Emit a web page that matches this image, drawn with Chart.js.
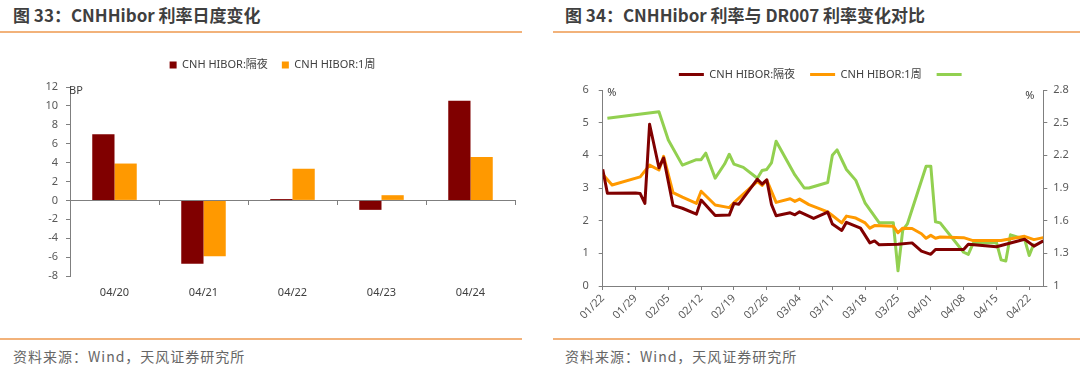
<!DOCTYPE html>
<html lang="zh-CN">
<head>
<meta charset="utf-8">
<title>CNHHibor 利率</title>
<script src="https://cdn.jsdelivr.net/npm/chart.js@4.4.1/dist/chart.umd.min.js"></script>
<style>
  html, body { margin: 0; padding: 0; background: #fff; }
  body { position: relative; width: 1080px; height: 378px; overflow: hidden; font-family: "Noto Sans CJK SC", "Noto Sans", sans-serif; }
  .title { position: absolute; top: 4px; font-size: 17px; font-weight: bold; color: #3f3f3f; line-height: 22px; white-space: nowrap; }
  .rule { position: absolute; height: 2px; background: #f2b27a; }
  .source { position: absolute; top: 346px; font-size: 14px; color: #666; line-height: 20px; letter-spacing: 1px; white-space: nowrap; }
  canvas { position: absolute; }
</style>
</head>
<body>
<div class="title" style="left:13px">图 33：CNHHibor 利率日度变化</div>
<div class="title" style="left:565px">图 34：CNHHibor 利率与 DR007 利率变化对比</div>
<div class="rule" style="left:0;width:522px;top:31px"></div>
<div class="rule" style="left:553px;width:527px;top:31px"></div>
<div class="rule" style="left:0;width:522px;top:338px"></div>
<div class="rule" style="left:553px;width:527px;top:338px"></div>
<canvas id="barChart" width="530" height="285" style="left:0;top:40px"></canvas>
<canvas id="lineChart" width="535" height="290" style="left:545px;top:40px"></canvas>
<div class="source" style="left:13px">资料来源：Wind，天风证券研究所</div>
<div class="source" style="left:565px">资料来源：Wind，天风证券研究所</div>

<script>
// 图33: daily change of CNH HIBOR, in bp
const barDays = ['04/20', '04/21', '04/22', '04/23', '04/24'];
const barOvernight = [7.0, -6.7, 0.15, -1.0, 10.55];
const barOneWeek = [3.9, -5.9, 3.35, 0.55, 4.6];

// 图34: CNH HIBOR (left axis, %) and DR007 (right axis, %), 2024
const overnightDates = ['01/22', '01/23', '01/29', '01/30', '01/31', '02/01', '02/03', '02/04', '02/06', '02/08',
  '02/11', '02/12', '02/15', '02/18', '02/19', '02/20', '02/24', '02/25', '02/26', '02/27',
  '02/28', '03/02', '03/03', '03/04', '03/07', '03/10', '03/11', '03/13', '03/14', '03/17',
  '03/19', '03/20', '03/21', '03/25', '03/28', '03/30', '04/01', '04/02', '04/08', '04/09',
  '04/15', '04/21', '04/23', '04/25'];
const overnightRates = [3.57, 2.84, 2.85, 2.83, 2.53, 4.95, 3.62, 3.92, 2.47, 2.38,
  2.20, 2.63, 2.16, 2.17, 2.53, 2.50, 3.27, 3.12, 3.25, 2.50,
  2.15, 2.24, 2.18, 2.27, 2.07, 2.26, 1.90, 1.70, 1.95, 1.77,
  1.32, 1.38, 1.26, 1.28, 1.32, 1.07, 0.97, 1.12, 1.12, 1.28,
  1.20, 1.43, 1.22, 1.38];

const weekDates = ['01/22', '01/24', '01/30', '02/01', '02/03', '02/04', '02/06', '02/08', '02/11', '02/12',
  '02/15', '02/18', '02/19', '02/24', '02/25', '02/26', '02/28', '03/02', '03/03', '03/04',
  '03/06', '03/10', '03/11', '03/13', '03/14', '03/16', '03/18', '03/19', '03/20', '03/24',
  '03/25', '03/26', '03/28', '03/30', '03/31', '04/01', '04/02', '04/03', '04/08', '04/10',
  '04/16', '04/21', '04/23', '04/25'];
const weekRates = [3.42, 3.09, 3.34, 3.70, 3.55, 3.97, 2.86, 2.72, 2.53, 2.90,
  2.48, 2.40, 2.55, 3.20, 3.08, 3.24, 2.56, 2.67, 2.59, 2.66,
  2.49, 2.27, 2.16, 1.93, 2.14, 2.08, 1.93, 1.77, 1.85, 1.83,
  1.63, 1.77, 1.76, 1.60, 1.46, 1.55, 1.46, 1.50, 1.48, 1.39,
  1.39, 1.52, 1.42, 1.48];

const dr007Dates = ['01/23', '02/03', '02/05', '02/08', '02/11', '02/12', '02/13', '02/15', '02/17', '02/18',
  '02/19', '02/21', '02/24', '02/25', '02/26', '02/27', '02/28', '03/03', '03/05', '03/06',
  '03/10', '03/11', '03/12', '03/14', '03/16', '03/18', '03/21', '03/24', '03/25', '03/26',
  '03/27', '03/31', '04/01', '04/02', '04/03', '04/08', '04/09', '04/10', '04/15', '04/16',
  '04/17', '04/18', '04/21', '04/22', '04/23'];
const dr007Rates = [2.54, 2.60, 2.34, 2.11, 2.16, 2.16, 2.22, 1.99, 2.12, 2.21,
  2.12, 2.09, 1.99, 2.06, 2.07, 2.13, 2.33, 2.02, 1.90, 1.90,
  1.95, 2.20, 2.25, 2.07, 1.97, 1.76, 1.58, 1.58, 1.14, 1.51,
  1.57, 2.10, 2.10, 1.59, 1.58, 1.31, 1.29, 1.39, 1.40, 1.24,
  1.23, 1.47, 1.43, 1.28, 1.39];

const seriesNames = ['CNH HIBOR:隔夜', 'CNH HIBOR:1周', ''];

const axisColor = '#7f7f7f';
const year = 2024;
const axisStart = Date.UTC(year, 0, 22);
const DAY = 86400000;

// 'MM/DD' -> days since 01/22
function dayIndex(mmdd) {
  const [m, d] = mmdd.split('/').map(Number);
  return (Date.UTC(year, m - 1, d) - axisStart) / DAY;
}

// days since 01/22 -> 'MM/DD'
function dayLabel(idx) {
  const dt = new Date(axisStart + idx * DAY);
  return String(dt.getUTCMonth() + 1).padStart(2, '0') + '/' + String(dt.getUTCDate()).padStart(2, '0');
}

function toPoints(dates, values) {
  return dates.map((d, i) => ({ x: dayIndex(d), y: values[i] }));
}

// small unit captions (BP, %) next to the axes
const unitLabels = {
  id: 'unitLabels',
  afterDraw(chart, args, opts) {
    const ctx = chart.ctx;
    const area = chart.chartArea;
    ctx.save();
    ctx.fillStyle = '#404040';
    ctx.font = '11px "Noto Sans", sans-serif';
    ctx.textBaseline = 'middle';
    ctx.textAlign = 'left';
    (opts.items || []).forEach(item => {
      const x = (item.side === 'right' ? area.right : area.left) + item.dx;
      ctx.fillText(item.text, x, area.top + item.dy);
    });
    ctx.restore();
  }
};

Chart.defaults.font.family = '"Noto Sans", "Noto Sans CJK SC", sans-serif';
Chart.defaults.font.size = 11;
Chart.defaults.color = '#595959';

// axis look shared by both charts: no gridlines, short outside tick marks
function axisGrid() {
  return { drawOnChartArea: false, drawTicks: true, tickLength: 4, color: axisColor };
}

// 图33 bar chart
new Chart(document.getElementById('barChart'), {
  type: 'bar',
  data: {
    labels: barDays,
    datasets: [
      { label: seriesNames[0], data: barOvernight, backgroundColor: '#800000', categoryPercentage: 0.5, barPercentage: 1.0 },
      { label: seriesNames[1], data: barOneWeek, backgroundColor: '#FF9900', categoryPercentage: 0.5, barPercentage: 1.0 }
    ]
  },
  options: {
    responsive: false,
    animation: false,
    layout: { padding: { left: 30, right: 15, top: 5.5, bottom: 19 } },
    plugins: {
      legend: { labels: { boxWidth: 7, boxHeight: 7, padding: 14, color: '#404040' } },
      // empty spacer between legend and plot
      subtitle: { display: true, text: '', weight: 500, font: { size: 1, lineHeight: 1 }, padding: { top: 0, bottom: 5.5 } },
      tooltip: { enabled: false },
      unitLabels: { items: [{ text: 'BP', side: 'left', dx: -1, dy: 4 }] }
    },
    scales: {
      x: {
        grid: { display: false },
        border: { display: false },
        ticks: { padding: 2, color: '#404040' },
        afterFit: s => { s.height = 30; }
      },
      // zero line with category tick marks
      x2: {
        axis: 'x',
        type: 'category',
        position: { y: 0 },
        offset: true,
        grid: { offset: true, drawOnChartArea: false, tickLength: 4, color: axisColor },
        border: { color: axisColor },
        ticks: { display: false }
      },
      y: {
        min: -8,
        max: 12,
        ticks: { stepSize: 2, padding: 8 },
        grid: axisGrid(),
        border: { color: axisColor },
        afterFit: s => { s.width = 40; }
      }
    }
  },
  plugins: [unitLabels]
});

// 图34 line chart
new Chart(document.getElementById('lineChart'), {
  type: 'line',
  data: {
    datasets: [
      { label: seriesNames[0], data: toPoints(overnightDates, overnightRates), borderColor: '#800000', borderWidth: 3, pointRadius: 0, yAxisID: 'y' },
      { label: seriesNames[1], data: toPoints(weekDates, weekRates), borderColor: '#FF9900', borderWidth: 3, pointRadius: 0, yAxisID: 'y' },
      { label: seriesNames[2], data: toPoints(dr007Dates, dr007Rates), borderColor: '#92D050', borderWidth: 3, pointRadius: 0, yAxisID: 'y1' }
    ]
  },
  options: {
    responsive: false,
    animation: false,
    elements: { line: { tension: 0, borderJoinStyle: 'round' } },
    layout: { padding: { left: 0, right: 0, top: 14, bottom: 4 } },
    plugins: {
      legend: { fullSize: false, labels: { usePointStyle: true, pointStyle: 'line', pointStyleWidth: 25, padding: 15, color: '#404040' } },
      tooltip: { enabled: false },
      unitLabels: { items: [{ text: '%', side: 'left', dx: 4.5, dy: 3 }, { text: '%', side: 'right', dx: -18, dy: 6 }] }
    },
    scales: {
      x: {
        type: 'linear',
        min: 0,
        max: 94,
        ticks: { stepSize: 7, includeBounds: false, autoSkip: false, minRotation: 45, maxRotation: 45, padding: 2, callback: v => dayLabel(v) },
        grid: axisGrid(),
        border: { color: axisColor },
        afterFit: s => { s.height = 40; }
      },
      y: {
        position: 'left',
        min: 0,
        max: 6,
        ticks: { stepSize: 1, padding: 10 },
        grid: axisGrid(),
        border: { color: axisColor },
        afterFit: s => { s.width = 57.7; }
      },
      y1: {
        position: 'right',
        min: 1,
        max: 2.8,
        ticks: { stepSize: 0.3, padding: 6, callback: v => String(Math.round(v * 10) / 10) },
        grid: axisGrid(),
        border: { color: axisColor },
        afterFit: s => { s.width = 36.7; }
      }
    }
  },
  plugins: [unitLabels]
});
</script>
</body>
</html>
